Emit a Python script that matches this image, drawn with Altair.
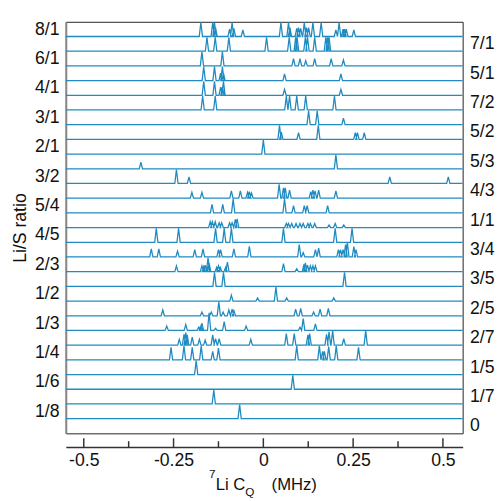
import altair as alt
import pandas as pd

# Li/S ratios, top row to bottom row
ratios = ["8/1", "7/1", "6/1", "5/1", "4/1", "7/2", "3/1", "5/2", "2/1", "5/3",
          "3/2", "4/3", "5/4", "1/1", "4/5", "3/4", "2/3", "3/5", "1/2", "2/5",
          "1/3", "2/7", "1/4", "1/5", "1/6", "1/7", "1/8", "0"]

# peaks of each spectrum: (C_Q in MHz, height in row units)
p_8_1 = [(-0.174, 0.95), (-0.141, 0.95), (-0.136, 0.95), (-0.133, 0.6), (-0.094, 0.5),
         (-0.087, 0.95), (-0.082, 0.55), (-0.057, 0.45), (0.049, 0.95), (0.070, 0.95),
         (0.074, 0.6), (0.093, 0.55), (0.098, 0.6), (0.104, 0.55), (0.114, 0.95),
         (0.120, 0.6), (0.126, 0.6), (0.138, 0.95), (0.161, 0.95), (0.202, 0.45),
         (0.211, 0.95), (0.222, 0.5), (0.226, 0.5), (0.231, 0.5), (0.252, 0.45)]
p_7_1 = [(-0.157, 0.95), (-0.134, 0.95), (-0.096, 0.95), (0.009, 0.95), (0.072, 0.95),
         (0.090, 0.95), (0.094, 0.95), (0.117, 0.95), (0.123, 0.95), (0.143, 0.95),
         (0.174, 0.95), (0.179, 0.95), (0.183, 0.95)]
p_6_1 = [(-0.171, 0.95), (-0.114, 0.95), (0.084, 0.5), (0.102, 0.5), (0.118, 0.35),
         (0.143, 0.5), (0.189, 0.5), (0.223, 0.4)]
p_5_1 = [(-0.166, 0.95), (-0.136, 0.95), (-0.119, 0.5), (-0.114, 0.95), (-0.111, 0.5),
         (0.059, 0.45), (0.216, 0.45)]
p_4_1 = [(-0.166, 0.95), (-0.136, 0.95), (-0.119, 0.55), (-0.114, 0.55), (-0.111, 0.95),
         (0.059, 0.4), (0.216, 0.4)]
p_7_2 = [(-0.169, 0.95), (-0.134, 0.95), (0.064, 0.95), (0.073, 0.95), (0.093, 0.95),
         (0.118, 0.95), (0.198, 0.95)]
p_3_1 = [(0.126, 0.95), (0.150, 0.95), (0.223, 0.45)]
p_5_2 = [(0.045, 0.95), (0.050, 0.5), (0.098, 0.45), (0.153, 0.95), (0.256, 0.45),
         (0.262, 0.45), (0.281, 0.45)]
p_2_1 = [(0.0, 0.95)]
p_5_3 = [(-0.341, 0.45), (0.202, 0.95)]
p_3_2 = [(-0.242, 0.95), (-0.207, 0.45), (0.352, 0.45), (0.515, 0.45)]
p_4_3 = [(-0.199, 0.4), (-0.171, 0.4), (-0.089, 0.5), (-0.064, 0.5), (-0.044, 0.4),
         (-0.039, 0.45), (-0.033, 0.35), (0.044, 0.95), (0.056, 0.7), (0.061, 0.7),
         (0.073, 0.55), (0.132, 0.45), (0.138, 0.55), (0.144, 0.5), (0.154, 0.55),
         (0.202, 0.5)]
p_5_4 = [(-0.143, 0.58), (-0.113, 0.58), (-0.084, 0.95), (0.059, 0.95), (0.084, 0.5),
         (0.114, 0.5), (0.122, 0.5), (0.179, 0.5)]
p_1_1 = [(-0.148, 0.4), (-0.142, 0.4), (-0.134, 0.4), (-0.123, 0.33), (-0.116, 0.33),
         (-0.094, 0.33), (-0.087, 0.33), (-0.078, 0.55), (-0.073, 0.6), (0.064, 0.28),
         (0.070, 0.28), (0.079, 0.28), (0.091, 0.28), (0.102, 0.28), (0.111, 0.28),
         (0.124, 0.28), (0.131, 0.28), (0.143, 0.28), (0.183, 0.18), (0.200, 0.28),
         (0.224, 0.18)]
p_4_5 = [(-0.298, 0.95), (-0.236, 0.95), (-0.133, 0.95), (-0.109, 0.95), (-0.089, 0.95),
         (0.056, 0.95), (0.200, 0.95), (0.247, 0.95)]
p_3_4 = [(-0.312, 0.55), (-0.291, 0.55), (-0.239, 0.4), (-0.191, 0.5), (-0.168, 0.55),
         (-0.125, 0.5), (-0.119, 0.5), (-0.082, 0.55), (-0.039, 0.73), (0.100, 0.85),
         (0.111, 0.3), (0.145, 0.5), (0.154, 0.6), (0.209, 0.5), (0.215, 0.5),
         (0.222, 0.5), (0.229, 0.85), (0.234, 1.0), (0.252, 0.7), (0.258, 0.5)]
p_2_3 = [(-0.242, 0.4), (-0.171, 0.4), (-0.166, 0.35), (-0.162, 0.45), (-0.154, 0.95),
         (-0.151, 0.6), (-0.130, 0.3), (-0.125, 0.4), (-0.120, 0.3), (-0.105, 0.3),
         (-0.100, 0.65), (0.056, 0.55), (0.093, 0.2), (0.113, 0.5), (0.117, 0.6),
         (0.123, 0.45), (0.131, 0.4), (0.138, 0.4), (0.145, 0.4)]
p_3_5 = [(-0.136, 0.95), (-0.111, 0.95), (0.226, 0.95)]
p_1_2 = [(-0.089, 0.4), (-0.016, 0.22), (0.035, 0.95), (0.065, 0.22), (0.196, 0.22)]
p_2_5 = [(-0.280, 0.4), (-0.171, 0.25), (-0.145, 0.25), (-0.124, 0.95), (-0.112, 0.25),
         (-0.096, 0.4), (-0.087, 0.45), (-0.082, 0.35), (0.090, 0.45), (0.104, 0.5),
         (0.140, 0.25), (0.158, 0.45), (0.181, 0.5)]
p_1_3 = [(-0.269, 0.3), (-0.216, 0.4), (-0.180, 0.22), (-0.174, 0.3), (-0.171, 0.5),
         (-0.151, 1.2), (-0.133, 0.15), (-0.109, 0.6), (-0.048, 0.3), (0.102, 0.22),
         (0.111, 0.8), (0.145, 0.45)]
p_2_7 = [(-0.234, 0.4), (-0.221, 0.73), (-0.216, 0.85), (-0.212, 0.7), (-0.198, 0.55),
         (-0.178, 0.4), (-0.162, 0.35), (-0.141, 0.7), (-0.133, 0.45), (-0.123, 0.45),
         (-0.035, 0.4), (0.064, 0.78), (0.086, 0.78), (0.124, 0.7), (0.129, 0.78),
         (0.176, 0.73), (0.183, 0.9), (0.193, 1.0), (0.224, 0.45), (0.285, 1.0)]
p_1_4 = [(-0.257, 0.85), (-0.221, 0.95), (-0.198, 0.85), (-0.173, 0.95), (-0.141, 0.58),
         (-0.125, 0.8), (0.093, 0.95), (0.156, 0.95), (0.165, 0.58), (0.170, 0.58),
         (0.182, 0.9), (0.203, 0.95), (0.265, 0.85)]
p_1_5 = [(-0.187, 0.95)]
p_1_6 = [(0.082, 0.95)]
p_1_7 = [(-0.138, 0.95)]
p_1_8 = [(-0.066, 0.95)]
p_0 = []

peaks = [p_8_1, p_7_1, p_6_1, p_5_1, p_4_1, p_7_2, p_3_1, p_5_2, p_2_1, p_5_3,
         p_3_2, p_4_3, p_5_4, p_1_1, p_4_5, p_3_4, p_2_3, p_3_5, p_1_2, p_2_5,
         p_1_3, p_2_7, p_1_4, p_1_5, p_1_6, p_1_7, p_1_8, p_0]

major_ticks = [-0.5, -0.25, 0, 0.25, 0.5]
minor_ticks = [-0.375, -0.125, 0.125, 0.375]

x_min, x_max = -0.55, 0.555
half_width = 0.0045
n_rows = len(ratios)
W, H = 405, 420
blue = "#1f8bc0"

# each spectrum is a baseline with a narrow spike at every peak
rows = []
for r, (name, plist) in enumerate(zip(ratios, peaks)):
    if not plist:
        continue
    base = n_rows - 1 - r
    pts = [(x_min, 0)]
    for pos, h in sorted(plist):
        pts += [(pos - half_width, 0), (pos, h), (pos + half_width, 0)]
    pts.append((x_max, 0))
    for i, (x, h) in enumerate(pts):
        rows.append({"ratio": name, "row": r, "i": i, "cq": x, "y": base + h})
df = pd.DataFrame(rows)

labels_js = "[" + ",".join("'%s'" % s for s in ratios) + "]"
label_expr = labels_js + "[%d - floor(datum.value)]" % (n_rows - 1)
left_vals = [n_rows - 1 - r + 0.5 for r in range(0, n_rows, 2)]
right_vals = [n_rows - 1 - r + 0.5 for r in range(1, n_rows, 2)]

x_scale = alt.Scale(domain=[x_min, x_max], nice=False, zero=False)
y_scale = alt.Scale(domain=[0, n_rows], nice=False, zero=False)

x_enc = alt.X(
    "cq:Q",
    scale=x_scale,
    axis=alt.Axis(values=major_ticks, labelExpr="'' + datum.value", offset=14,
                  ticks=False, grid=False, domainColor="#333", domainWidth=1.5,
                  labelFontSize=18, labelPadding=5, labelColor="#111", title=None),
)

even = (
    alt.Chart(df)
    .transform_filter(alt.datum.row % 2 == 0)
    .mark_line(color=blue, strokeWidth=1.3, clip=True)
    .encode(
        x_enc,
        alt.Y("y:Q", scale=y_scale,
              axis=alt.Axis(values=left_vals, labelExpr=label_expr, ticks=False,
                            grid=False, domainColor="#888", domainWidth=2,
                            labelFontSize=18, labelPadding=7, labelColor="#111",
                            title="Li/S ratio", titleFontSize=18, titleFontWeight="normal",
                            titlePadding=5, titleColor="#111")),
        detail="ratio:N",
        order="i:Q",
    )
)

odd = (
    alt.Chart(df)
    .transform_filter(alt.datum.row % 2 == 1)
    .mark_line(color=blue, strokeWidth=1.3, clip=True)
    .encode(
        alt.X("cq:Q", scale=x_scale),
        alt.Y("y:Q", scale=y_scale,
              axis=alt.Axis(orient="right", values=right_vals, labelExpr=label_expr,
                            ticks=False, grid=False, domain=False, labelFontSize=18,
                            labelPadding=7, labelColor="#111", title=None)),
        detail="ratio:N",
        order="i:Q",
    )
)

# upward ticks on the offset x axis
major_df = pd.DataFrame({"v": major_ticks})
minor_df = pd.DataFrame({"v": minor_ticks})
major_rules = (
    alt.Chart(major_df)
    .mark_rule(color="#333", strokeWidth=1.5, clip=False)
    .encode(alt.X("v:Q", scale=x_scale), y=alt.value(H + 5), y2=alt.value(H + 14))
)
minor_rules = (
    alt.Chart(minor_df)
    .mark_rule(color="#333", strokeWidth=1.5, clip=False)
    .encode(alt.X("v:Q", scale=x_scale), y=alt.value(H + 8), y2=alt.value(H + 14))
)

# x axis title: 7Li C_Q (MHz) with super- and subscript
title_df = pd.DataFrame([{"t": 0}])


def title_part(text, x, y, size):
    return (
        alt.Chart(title_df)
        .mark_text(text=text, align="left", baseline="alphabetic", fontSize=size,
                   color="#111", font="Liberation Sans")
        .encode(x=alt.value(x), y=alt.value(y))
    )


x_title = (
    title_part("7", 146, 466, 12)
    + title_part("Li C", 153, 478, 17)
    + title_part("Q", 183, 484, 12)
    + title_part("(MHz)", 210, 478, 17)
)

chart = (
    alt.layer(even, odd, major_rules, minor_rules, x_title)
    .resolve_scale(y="independent")
    .properties(width=W, height=H, padding={"left": 3, "top": 7, "right": 0, "bottom": 0})
    .configure(font="Liberation Sans")
    .configure_view(stroke="#222", strokeWidth=1)
)

chart.save("out.html", embed_options={"renderer": "svg", "actions": False})
